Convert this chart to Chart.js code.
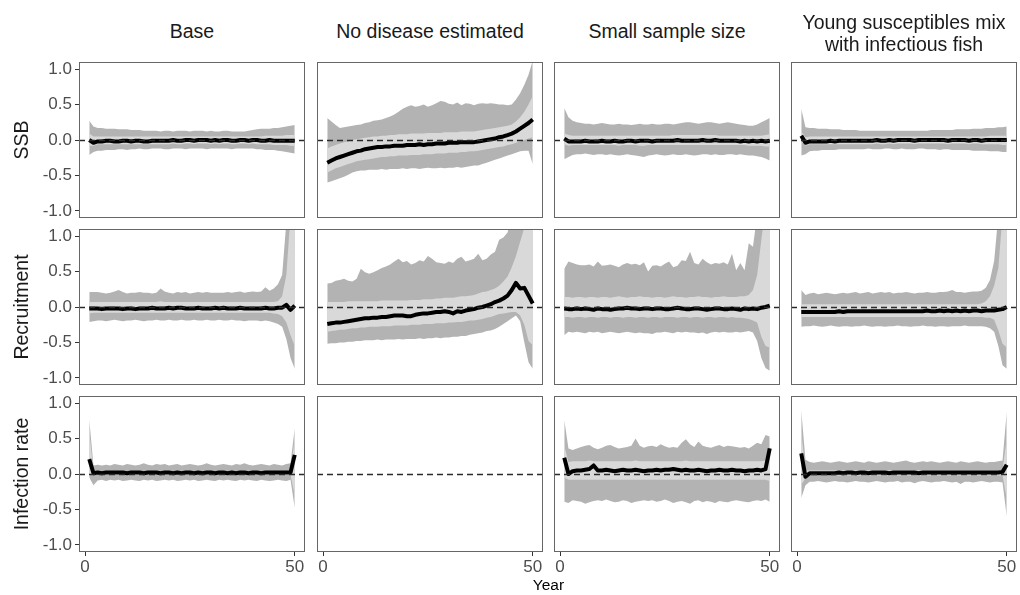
<!DOCTYPE html>
<html><head><meta charset="utf-8">
<script src="https://cdn.jsdelivr.net/npm/chart.js@4.4.1/dist/chart.umd.min.js"></script>
<style>
html,body{margin:0;padding:0;background:#fff;}
#wrap{position:relative;width:1020px;height:595px;overflow:hidden;font-family:'Liberation Sans',Arial,sans-serif;}
canvas{position:absolute;}
.strip{position:absolute;text-align:center;font-size:19.5px;line-height:22px;color:#1a1a1a;white-space:nowrap;}
.rowlab{position:absolute;font-size:19.5px;line-height:22px;color:#1a1a1a;white-space:nowrap;transform:translate(-50%,-50%) rotate(-90deg);}
.xtitle{position:absolute;font-size:15.5px;line-height:18px;color:#000;transform:translate(-50%,-50%);white-space:nowrap;}
</style></head>
<body><div id="wrap"></div>
<script>
// ---------- data ----------
const years = [1,2,3,4,5,6,7,8,9,10,11,12,13,14,15,16,17,18,19,20,21,22,23,24,25,
  26,27,28,29,30,31,32,33,34,35,36,37,38,39,40,41,42,43,44,45,46,47,48,49,50];
const xTicks = [0, 50];
const yTicks = [-1.0, -0.5, 0.0, 0.5, 1.0];
const yTickLabels = ['-1.0', '-0.5', '0.0', '0.5', '1.0'];
const scenarios = ['Base', 'No disease estimated', 'Small sample size', 'Young susceptibles mix\nwith infectious fish'];
const quantities = ['SSB', 'Recruitment', 'Infection rate'];

// SSB - Base
const ssbBaseMed = [0.00,-0.04,-0.02,-0.02,-0.01,-0.01,-0.02,-0.02,-0.01,-0.01,
 -0.02,-0.01,-0.01,-0.02,-0.02,-0.01,-0.01,-0.01,-0.01,-0.01,
 0.00,-0.01,-0.01,0.00,0.00,-0.01,0.00,0.00,0.00,-0.01,
 0.00,-0.01,0.00,0.00,-0.01,-0.01,0.00,0.00,-0.01,0.00,
 0.00,-0.01,-0.01,0.00,-0.01,-0.01,-0.01,-0.01,-0.01,-0.01];
const ssbBaseHi90 = [0.27,0.19,0.17,0.17,0.16,0.16,0.16,0.15,0.15,0.15,
 0.14,0.14,0.14,0.13,0.13,0.13,0.13,0.12,0.13,0.13,
 0.12,0.13,0.13,0.13,0.12,0.13,0.13,0.13,0.12,0.13,
 0.12,0.12,0.13,0.13,0.12,0.12,0.12,0.12,0.13,0.14,
 0.15,0.16,0.16,0.16,0.17,0.17,0.18,0.19,0.20,0.21];
const ssbBaseLo90 = [-0.21,-0.17,-0.15,-0.15,-0.14,-0.14,-0.14,-0.13,-0.13,-0.14,
 -0.13,-0.13,-0.12,-0.13,-0.13,-0.12,-0.12,-0.12,-0.13,-0.13,
 -0.12,-0.12,-0.12,-0.13,-0.12,-0.12,-0.12,-0.12,-0.13,-0.12,
 -0.12,-0.12,-0.12,-0.12,-0.13,-0.12,-0.12,-0.12,-0.12,-0.12,
 -0.13,-0.13,-0.14,-0.14,-0.14,-0.15,-0.16,-0.17,-0.18,-0.19];
const ssbBaseHi50 = [0.09,0.05,0.05,0.05,0.05,0.05,0.05,0.05,0.05,0.05,
 0.05,0.05,0.05,0.05,0.05,0.05,0.05,0.05,0.05,0.05,
 0.05,0.05,0.05,0.05,0.05,0.05,0.05,0.05,0.05,0.05,
 0.05,0.05,0.05,0.05,0.05,0.05,0.05,0.05,0.05,0.05,
 0.05,0.05,0.06,0.06,0.06,0.06,0.06,0.07,0.07,0.07];
const ssbBaseLo50 = [-0.08,-0.08,-0.06,-0.06,-0.06,-0.06,-0.06,-0.06,-0.06,-0.06,
 -0.06,-0.06,-0.06,-0.06,-0.06,-0.06,-0.06,-0.06,-0.06,-0.06,
 -0.05,-0.06,-0.06,-0.05,-0.05,-0.06,-0.05,-0.05,-0.05,-0.06,
 -0.05,-0.06,-0.05,-0.05,-0.06,-0.06,-0.05,-0.05,-0.06,-0.05,
 -0.06,-0.06,-0.06,-0.06,-0.07,-0.07,-0.07,-0.07,-0.08,-0.08];

// SSB - No disease estimated
const ssbNoMed = [-0.32,-0.29,-0.26,-0.24,-0.22,-0.20,-0.18,-0.16,-0.15,-0.13,
 -0.12,-0.11,-0.10,-0.10,-0.09,-0.09,-0.08,-0.08,-0.08,-0.07,
 -0.07,-0.07,-0.06,-0.07,-0.06,-0.06,-0.05,-0.05,-0.05,-0.04,
 -0.04,-0.04,-0.03,-0.03,-0.03,-0.03,-0.02,-0.01,0.00,0.01,
 0.02,0.04,0.05,0.07,0.09,0.12,0.16,0.20,0.24,0.29];
const ssbNoHi90 = [0.31,0.26,0.21,0.17,0.18,0.19,0.20,0.21,0.22,0.24,
 0.25,0.27,0.28,0.29,0.31,0.33,0.36,0.40,0.44,0.47,
 0.49,0.47,0.48,0.50,0.47,0.49,0.52,0.55,0.54,0.51,
 0.50,0.53,0.49,0.52,0.51,0.49,0.51,0.52,0.51,0.52,
 0.51,0.50,0.50,0.49,0.50,0.57,0.66,0.78,0.92,1.12];
const ssbNoLo90 = [-0.60,-0.58,-0.56,-0.54,-0.52,-0.49,-0.46,-0.44,-0.43,-0.43,
 -0.42,-0.42,-0.42,-0.41,-0.42,-0.41,-0.41,-0.41,-0.40,-0.41,
 -0.40,-0.40,-0.41,-0.40,-0.39,-0.40,-0.40,-0.39,-0.40,-0.39,
 -0.39,-0.38,-0.39,-0.38,-0.37,-0.36,-0.36,-0.34,-0.32,-0.30,
 -0.28,-0.26,-0.24,-0.22,-0.20,-0.18,-0.16,-0.15,-0.15,-0.34];
const ssbNoHi50 = [-0.12,-0.09,-0.07,-0.05,-0.03,-0.02,0.00,0.01,0.02,0.03,
 0.04,0.05,0.05,0.06,0.06,0.07,0.07,0.08,0.08,0.08,
 0.09,0.09,0.09,0.09,0.10,0.10,0.10,0.10,0.11,0.11,
 0.11,0.11,0.12,0.12,0.12,0.12,0.13,0.14,0.15,0.16,
 0.17,0.18,0.19,0.20,0.22,0.26,0.32,0.40,0.50,0.62];
const ssbNoLo50 = [-0.46,-0.43,-0.40,-0.38,-0.36,-0.34,-0.32,-0.30,-0.29,-0.28,
 -0.27,-0.26,-0.25,-0.24,-0.24,-0.23,-0.23,-0.22,-0.22,-0.22,
 -0.21,-0.21,-0.21,-0.20,-0.20,-0.20,-0.19,-0.19,-0.19,-0.18,
 -0.18,-0.18,-0.17,-0.17,-0.16,-0.16,-0.15,-0.14,-0.13,-0.12,
 -0.11,-0.10,-0.09,-0.07,-0.06,-0.04,-0.02,0.00,0.02,0.04];

// SSB - Small sample size
const ssbSmallMed = [0.02,-0.02,-0.02,-0.02,-0.02,-0.01,-0.02,-0.02,-0.02,-0.01,
 -0.02,-0.02,-0.01,-0.02,-0.02,-0.01,-0.01,-0.02,-0.01,-0.01,
 -0.01,-0.02,-0.01,-0.01,-0.01,-0.01,-0.01,0.00,-0.01,-0.01,
 -0.01,-0.01,-0.01,0.00,-0.01,-0.01,0.00,-0.01,-0.01,-0.01,
 -0.01,-0.01,-0.02,-0.01,-0.02,-0.01,-0.02,-0.01,-0.02,-0.01];
const ssbSmallHi90 = [0.45,0.32,0.27,0.25,0.24,0.23,0.23,0.22,0.23,0.24,
 0.23,0.22,0.22,0.23,0.22,0.22,0.21,0.22,0.23,0.22,
 0.22,0.23,0.22,0.22,0.23,0.23,0.22,0.23,0.24,0.25,
 0.25,0.24,0.23,0.24,0.25,0.25,0.24,0.23,0.24,0.25,
 0.24,0.23,0.22,0.21,0.20,0.20,0.22,0.25,0.28,0.31];
const ssbSmallLo90 = [-0.27,-0.24,-0.21,-0.20,-0.20,-0.19,-0.20,-0.21,-0.20,-0.20,
 -0.21,-0.20,-0.21,-0.22,-0.21,-0.20,-0.21,-0.22,-0.23,-0.24,
 -0.22,-0.21,-0.20,-0.21,-0.22,-0.21,-0.20,-0.21,-0.21,-0.20,
 -0.21,-0.22,-0.21,-0.20,-0.20,-0.21,-0.20,-0.21,-0.21,-0.20,
 -0.20,-0.21,-0.20,-0.21,-0.22,-0.22,-0.23,-0.24,-0.26,-0.29];
const ssbSmallHi50 = [0.09,0.07,0.06,0.06,0.06,0.06,0.06,0.06,0.06,0.06,
 0.06,0.06,0.06,0.06,0.06,0.06,0.06,0.06,0.06,0.06,
 0.06,0.06,0.06,0.06,0.06,0.06,0.07,0.07,0.07,0.07,
 0.07,0.07,0.07,0.07,0.07,0.07,0.07,0.06,0.06,0.06,
 0.06,0.06,0.06,0.06,0.06,0.06,0.06,0.06,0.07,0.08];
const ssbSmallLo50 = [-0.06,-0.08,-0.07,-0.07,-0.07,-0.07,-0.07,-0.07,-0.07,-0.07,
 -0.07,-0.07,-0.07,-0.08,-0.07,-0.07,-0.07,-0.07,-0.08,-0.08,
 -0.07,-0.07,-0.07,-0.07,-0.07,-0.07,-0.07,-0.07,-0.07,-0.07,
 -0.07,-0.07,-0.07,-0.07,-0.07,-0.07,-0.07,-0.07,-0.07,-0.07,
 -0.07,-0.07,-0.07,-0.07,-0.08,-0.08,-0.08,-0.08,-0.09,-0.09];

// SSB - Young susceptibles mix with infectious fish
const ssbYoungMed = [0.06,-0.04,-0.02,-0.02,-0.02,-0.02,-0.02,-0.01,-0.02,-0.01,
 -0.01,-0.01,-0.01,-0.01,-0.01,-0.01,-0.01,-0.01,0.00,-0.01,
 -0.01,0.00,-0.01,0.00,0.00,0.00,0.00,-0.01,0.00,0.00,
 0.00,0.00,0.00,0.00,0.00,-0.01,0.00,0.00,0.00,0.00,
 -0.01,0.00,0.00,-0.01,0.00,0.00,0.00,0.00,0.00,0.00];
const ssbYoungHi90 = [0.44,0.18,0.17,0.17,0.16,0.16,0.16,0.15,0.15,0.15,
 0.14,0.14,0.14,0.14,0.13,0.13,0.13,0.13,0.13,0.13,
 0.13,0.13,0.13,0.13,0.13,0.13,0.13,0.13,0.13,0.13,
 0.13,0.14,0.14,0.14,0.14,0.14,0.14,0.15,0.15,0.15,
 0.15,0.16,0.16,0.16,0.17,0.17,0.17,0.18,0.18,0.19];
const ssbYoungLo90 = [-0.22,-0.20,-0.16,-0.15,-0.15,-0.14,-0.14,-0.14,-0.14,-0.13,
 -0.13,-0.13,-0.13,-0.13,-0.13,-0.13,-0.12,-0.13,-0.13,-0.13,
 -0.12,-0.12,-0.13,-0.13,-0.12,-0.13,-0.13,-0.13,-0.12,-0.12,
 -0.13,-0.13,-0.13,-0.14,-0.13,-0.13,-0.14,-0.14,-0.14,-0.14,
 -0.14,-0.15,-0.15,-0.15,-0.15,-0.16,-0.16,-0.16,-0.17,-0.17];
const ssbYoungHi50 = [0.12,0.04,0.05,0.05,0.05,0.05,0.05,0.05,0.05,0.05,
 0.05,0.05,0.05,0.05,0.05,0.05,0.05,0.05,0.05,0.05,
 0.05,0.05,0.05,0.05,0.05,0.05,0.05,0.05,0.05,0.05,
 0.05,0.05,0.05,0.05,0.05,0.05,0.05,0.05,0.05,0.05,
 0.05,0.05,0.05,0.05,0.05,0.06,0.06,0.06,0.06,0.06];
const ssbYoungLo50 = [-0.02,-0.08,-0.06,-0.06,-0.06,-0.06,-0.06,-0.06,-0.06,-0.06,
 -0.06,-0.06,-0.06,-0.06,-0.06,-0.06,-0.06,-0.06,-0.05,-0.06,
 -0.06,-0.05,-0.06,-0.05,-0.05,-0.05,-0.05,-0.06,-0.05,-0.05,
 -0.05,-0.05,-0.05,-0.05,-0.05,-0.06,-0.05,-0.05,-0.05,-0.05,
 -0.06,-0.05,-0.05,-0.06,-0.06,-0.06,-0.06,-0.06,-0.07,-0.07];

// Recruitment - Base
const recBaseMed = [-0.02,-0.02,-0.02,-0.03,-0.02,-0.02,-0.02,-0.02,-0.03,-0.02,
 -0.02,-0.03,-0.02,-0.02,-0.02,-0.01,-0.02,-0.02,-0.02,-0.01,
 -0.02,-0.01,-0.01,-0.02,-0.02,-0.02,-0.01,-0.02,-0.02,-0.02,
 -0.01,-0.02,-0.01,-0.02,-0.02,-0.02,-0.01,-0.02,-0.02,-0.02,
 -0.02,-0.02,-0.01,-0.02,-0.02,-0.01,-0.01,0.03,-0.04,0.02];
const recBaseHi90 = [0.21,0.21,0.21,0.20,0.19,0.20,0.22,0.24,0.21,0.19,
 0.20,0.20,0.21,0.20,0.20,0.19,0.20,0.26,0.22,0.20,
 0.19,0.21,0.20,0.21,0.19,0.20,0.21,0.20,0.21,0.20,
 0.20,0.20,0.20,0.21,0.20,0.21,0.22,0.20,0.21,0.22,
 0.21,0.22,0.28,0.23,0.26,0.32,0.45,1.20,2.00,2.50];
const recBaseLo90 = [-0.21,-0.20,-0.19,-0.19,-0.20,-0.19,-0.18,-0.19,-0.20,-0.19,
 -0.19,-0.18,-0.19,-0.20,-0.19,-0.19,-0.18,-0.19,-0.19,-0.18,
 -0.19,-0.19,-0.18,-0.19,-0.19,-0.18,-0.19,-0.19,-0.18,-0.19,
 -0.19,-0.18,-0.19,-0.19,-0.18,-0.19,-0.19,-0.20,-0.19,-0.19,
 -0.19,-0.20,-0.19,-0.20,-0.22,-0.24,-0.28,-0.45,-0.72,-0.87];
const recBaseHi50 = [0.07,0.07,0.07,0.07,0.07,0.07,0.07,0.07,0.07,0.07,
 0.07,0.07,0.07,0.07,0.07,0.07,0.07,0.08,0.07,0.07,
 0.07,0.07,0.07,0.07,0.07,0.07,0.07,0.07,0.07,0.07,
 0.07,0.07,0.07,0.07,0.07,0.07,0.07,0.07,0.07,0.07,
 0.07,0.07,0.07,0.07,0.07,0.08,0.15,0.45,1.30,1.80];
const recBaseLo50 = [-0.09,-0.08,-0.08,-0.08,-0.08,-0.08,-0.08,-0.08,-0.08,-0.08,
 -0.08,-0.08,-0.08,-0.08,-0.08,-0.08,-0.08,-0.08,-0.08,-0.08,
 -0.08,-0.08,-0.08,-0.08,-0.08,-0.08,-0.08,-0.08,-0.08,-0.08,
 -0.08,-0.08,-0.08,-0.08,-0.08,-0.08,-0.08,-0.08,-0.08,-0.08,
 -0.08,-0.08,-0.08,-0.08,-0.09,-0.10,-0.13,-0.22,-0.40,-0.55];

// Recruitment - No disease estimated
const recNoMed = [-0.24,-0.23,-0.22,-0.22,-0.21,-0.20,-0.19,-0.18,-0.17,-0.16,
 -0.16,-0.15,-0.15,-0.14,-0.14,-0.13,-0.12,-0.12,-0.12,-0.13,
 -0.13,-0.11,-0.10,-0.09,-0.09,-0.08,-0.07,-0.07,-0.06,-0.07,
 -0.09,-0.06,-0.07,-0.05,-0.04,-0.03,-0.01,0.00,0.02,0.04,
 0.07,0.09,0.12,0.16,0.24,0.34,0.26,0.27,0.16,0.05];
const recNoHi90 = [0.33,0.34,0.37,0.38,0.40,0.37,0.36,0.40,0.54,0.49,
 0.47,0.49,0.52,0.55,0.57,0.60,0.64,0.68,0.63,0.65,
 0.60,0.62,0.66,0.64,0.72,0.68,0.63,0.62,0.61,0.64,
 0.62,0.68,0.71,0.64,0.66,0.68,0.75,0.66,0.68,0.74,
 0.78,0.95,0.98,1.05,1.30,1.60,1.90,2.20,2.50,2.80];
const recNoLo90 = [-0.52,-0.51,-0.51,-0.50,-0.50,-0.49,-0.49,-0.48,-0.48,-0.47,
 -0.47,-0.47,-0.46,-0.47,-0.46,-0.46,-0.46,-0.45,-0.46,-0.45,
 -0.45,-0.45,-0.44,-0.45,-0.44,-0.44,-0.43,-0.44,-0.43,-0.43,
 -0.42,-0.42,-0.41,-0.41,-0.39,-0.38,-0.37,-0.36,-0.34,-0.33,
 -0.31,-0.28,-0.24,-0.20,-0.16,-0.12,-0.20,-0.50,-0.78,-0.87];
const recNoHi50 = [0.07,0.07,0.07,0.07,0.07,0.08,0.08,0.08,0.08,0.08,
 0.08,0.08,0.08,0.09,0.09,0.09,0.09,0.09,0.09,0.09,
 0.10,0.10,0.10,0.11,0.11,0.11,0.12,0.12,0.13,0.13,
 0.13,0.14,0.15,0.15,0.16,0.17,0.19,0.21,0.22,0.24,
 0.26,0.30,0.36,0.43,0.56,0.72,0.92,1.12,1.40,1.60];
const recNoLo50 = [-0.35,-0.34,-0.33,-0.32,-0.32,-0.31,-0.30,-0.30,-0.29,-0.29,
 -0.28,-0.28,-0.28,-0.27,-0.27,-0.27,-0.26,-0.26,-0.26,-0.26,
 -0.25,-0.25,-0.25,-0.24,-0.24,-0.24,-0.23,-0.23,-0.23,-0.22,
 -0.22,-0.21,-0.21,-0.20,-0.19,-0.19,-0.18,-0.17,-0.15,-0.14,
 -0.12,-0.10,-0.09,-0.08,-0.07,-0.07,-0.12,-0.25,-0.48,-0.54];

// Recruitment - Small sample size
const recSmallMed = [-0.02,-0.03,-0.03,-0.02,-0.03,-0.02,-0.03,-0.04,-0.02,-0.03,
 -0.03,-0.04,-0.03,-0.02,-0.02,-0.01,-0.02,-0.02,-0.03,-0.02,
 -0.02,-0.03,-0.02,-0.02,-0.03,-0.03,-0.02,-0.01,-0.02,-0.03,
 -0.03,-0.02,-0.02,-0.03,-0.04,-0.03,-0.02,-0.02,-0.03,-0.03,
 -0.02,-0.03,-0.04,-0.02,-0.03,-0.02,-0.03,-0.01,0.00,0.02];
const recSmallHi90 = [0.54,0.64,0.62,0.60,0.59,0.59,0.60,0.57,0.64,0.58,
 0.59,0.60,0.58,0.56,0.60,0.62,0.60,0.61,0.59,0.63,
 0.50,0.58,0.59,0.57,0.61,0.64,0.56,0.58,0.66,0.65,
 0.78,0.62,0.60,0.68,0.63,0.60,0.62,0.61,0.63,0.60,
 0.75,0.52,0.62,0.52,0.90,0.85,1.30,1.80,2.30,2.80];
const recSmallLo90 = [-0.40,-0.35,-0.36,-0.35,-0.36,-0.37,-0.35,-0.36,-0.35,-0.37,
 -0.36,-0.35,-0.36,-0.37,-0.36,-0.35,-0.36,-0.37,-0.36,-0.37,
 -0.37,-0.38,-0.36,-0.36,-0.35,-0.36,-0.37,-0.35,-0.36,-0.35,
 -0.36,-0.36,-0.37,-0.36,-0.38,-0.36,-0.35,-0.36,-0.35,-0.36,
 -0.36,-0.35,-0.36,-0.35,-0.34,-0.36,-0.48,-0.72,-0.86,-0.90];
const recSmallHi50 = [0.14,0.14,0.13,0.14,0.14,0.13,0.14,0.14,0.13,0.14,
 0.14,0.13,0.14,0.15,0.14,0.13,0.14,0.14,0.15,0.14,
 0.14,0.13,0.14,0.14,0.13,0.14,0.15,0.14,0.14,0.13,
 0.14,0.14,0.15,0.14,0.14,0.13,0.14,0.14,0.15,0.14,
 0.14,0.14,0.15,0.15,0.17,0.24,0.45,0.95,1.40,1.80];
const recSmallLo50 = [-0.14,-0.14,-0.15,-0.14,-0.14,-0.15,-0.14,-0.14,-0.15,-0.14,
 -0.14,-0.15,-0.14,-0.14,-0.15,-0.14,-0.14,-0.15,-0.14,-0.14,
 -0.15,-0.14,-0.14,-0.15,-0.14,-0.14,-0.14,-0.15,-0.14,-0.14,
 -0.15,-0.14,-0.14,-0.15,-0.14,-0.14,-0.15,-0.14,-0.14,-0.15,
 -0.14,-0.15,-0.15,-0.16,-0.17,-0.19,-0.22,-0.42,-0.55,-0.57];

// Recruitment - Young susceptibles mix with infectious fish
const recYoungMed = [-0.07,-0.07,-0.07,-0.07,-0.07,-0.07,-0.07,-0.07,-0.07,-0.06,
 -0.07,-0.06,-0.06,-0.06,-0.06,-0.06,-0.06,-0.06,-0.06,-0.06,
 -0.06,-0.06,-0.06,-0.06,-0.06,-0.06,-0.06,-0.06,-0.06,-0.06,
 -0.05,-0.06,-0.06,-0.05,-0.06,-0.05,-0.06,-0.05,-0.06,-0.05,
 -0.06,-0.05,-0.05,-0.06,-0.05,-0.05,-0.05,-0.04,-0.03,0.00];
const recYoungHi90 = [0.24,0.17,0.19,0.20,0.18,0.19,0.20,0.19,0.18,0.19,
 0.20,0.19,0.20,0.21,0.19,0.20,0.21,0.19,0.20,0.21,
 0.20,0.21,0.19,0.20,0.20,0.21,0.20,0.19,0.20,0.20,
 0.21,0.20,0.20,0.21,0.21,0.22,0.24,0.21,0.21,0.20,
 0.21,0.22,0.22,0.23,0.27,0.38,0.65,1.30,2.00,2.50];
const recYoungLo90 = [-0.28,-0.27,-0.27,-0.26,-0.27,-0.28,-0.27,-0.26,-0.27,-0.28,
 -0.27,-0.27,-0.28,-0.27,-0.27,-0.26,-0.27,-0.28,-0.27,-0.27,
 -0.28,-0.27,-0.27,-0.26,-0.27,-0.27,-0.28,-0.27,-0.27,-0.26,
 -0.27,-0.27,-0.28,-0.27,-0.27,-0.28,-0.27,-0.27,-0.27,-0.26,
 -0.27,-0.27,-0.27,-0.27,-0.28,-0.30,-0.35,-0.55,-0.82,-0.87];
const recYoungHi50 = [0.04,0.04,0.04,0.04,0.04,0.04,0.04,0.04,0.04,0.04,
 0.04,0.04,0.04,0.04,0.04,0.04,0.04,0.04,0.04,0.04,
 0.04,0.04,0.04,0.04,0.04,0.04,0.04,0.04,0.04,0.04,
 0.04,0.04,0.04,0.04,0.04,0.04,0.04,0.04,0.04,0.04,
 0.04,0.04,0.04,0.05,0.08,0.15,0.30,0.55,1.30,1.60];
const recYoungLo50 = [-0.14,-0.14,-0.14,-0.14,-0.14,-0.14,-0.14,-0.14,-0.14,-0.14,
 -0.14,-0.14,-0.14,-0.14,-0.14,-0.14,-0.14,-0.14,-0.14,-0.14,
 -0.14,-0.14,-0.14,-0.14,-0.14,-0.14,-0.14,-0.14,-0.14,-0.14,
 -0.14,-0.14,-0.14,-0.14,-0.14,-0.14,-0.14,-0.14,-0.14,-0.14,
 -0.14,-0.14,-0.14,-0.14,-0.15,-0.15,-0.18,-0.33,-0.52,-0.57];

// Infection rate - Base
const infBaseMed = [0.21,0.01,0.02,0.01,0.02,0.02,0.02,0.02,0.02,0.01,
 0.02,0.02,0.02,0.01,0.02,0.02,0.02,0.01,0.02,0.02,
 0.01,0.02,0.01,0.02,0.02,0.01,0.02,0.01,0.02,0.02,
 0.01,0.02,0.02,0.01,0.02,0.01,0.02,0.02,0.01,0.02,
 0.02,0.01,0.02,0.02,0.02,0.02,0.02,0.02,0.02,0.27];
const infBaseHi90 = [0.77,0.12,0.13,0.12,0.13,0.12,0.14,0.13,0.12,0.14,
 0.13,0.12,0.13,0.15,0.13,0.12,0.14,0.13,0.14,0.12,
 0.13,0.14,0.12,0.13,0.14,0.13,0.12,0.13,0.15,0.13,
 0.12,0.13,0.14,0.13,0.12,0.14,0.13,0.15,0.13,0.12,
 0.13,0.14,0.13,0.12,0.14,0.13,0.12,0.14,0.15,0.65];
const infBaseLo90 = [-0.05,-0.16,-0.09,-0.08,-0.10,-0.08,-0.09,-0.08,-0.10,-0.09,
 -0.08,-0.09,-0.10,-0.08,-0.09,-0.08,-0.10,-0.09,-0.08,-0.09,
 -0.08,-0.10,-0.09,-0.08,-0.09,-0.08,-0.10,-0.09,-0.08,-0.09,
 -0.10,-0.08,-0.09,-0.08,-0.09,-0.10,-0.08,-0.09,-0.08,-0.09,
 -0.10,-0.08,-0.09,-0.10,-0.09,-0.08,-0.09,-0.10,-0.08,-0.48];
const infBaseHi50 = [0.60,0.04,0.04,0.04,0.04,0.04,0.04,0.04,0.04,0.04,
 0.04,0.04,0.04,0.04,0.04,0.04,0.04,0.04,0.04,0.04,
 0.04,0.04,0.04,0.04,0.04,0.04,0.04,0.04,0.04,0.04,
 0.04,0.04,0.04,0.04,0.04,0.04,0.04,0.04,0.04,0.04,
 0.04,0.04,0.04,0.04,0.04,0.04,0.04,0.04,0.04,0.50];
const infBaseLo50 = [0.00,-0.01,-0.01,-0.01,-0.01,-0.01,-0.01,-0.01,-0.01,-0.01,
 -0.01,-0.01,-0.01,-0.01,-0.01,-0.01,-0.01,-0.01,-0.01,-0.01,
 -0.01,-0.01,-0.01,-0.01,-0.01,-0.01,-0.01,-0.01,-0.01,-0.01,
 -0.01,-0.01,-0.01,-0.01,-0.01,-0.01,-0.01,-0.01,-0.01,-0.01,
 -0.01,-0.01,-0.01,-0.01,-0.01,-0.01,-0.01,-0.01,-0.01,-0.30];

// Infection rate - Small sample size
const infSmallMed = [0.23,0.00,0.04,0.05,0.05,0.06,0.07,0.12,0.05,0.05,
 0.06,0.05,0.04,0.05,0.06,0.05,0.05,0.06,0.05,0.04,
 0.05,0.05,0.06,0.05,0.06,0.06,0.07,0.06,0.05,0.06,
 0.05,0.05,0.06,0.05,0.04,0.05,0.05,0.06,0.05,0.05,
 0.06,0.05,0.05,0.04,0.05,0.05,0.06,0.05,0.07,0.36];
const infSmallHi90 = [0.76,0.36,0.34,0.36,0.38,0.40,0.41,0.37,0.35,0.37,
 0.40,0.41,0.38,0.36,0.37,0.38,0.40,0.50,0.40,0.37,
 0.39,0.40,0.38,0.42,0.39,0.37,0.38,0.37,0.44,0.49,
 0.42,0.38,0.46,0.40,0.38,0.37,0.39,0.41,0.38,0.40,
 0.39,0.38,0.37,0.38,0.36,0.40,0.44,0.42,0.55,0.53];
const infSmallLo90 = [-0.39,-0.41,-0.37,-0.38,-0.39,-0.42,-0.40,-0.38,-0.37,-0.38,
 -0.36,-0.38,-0.40,-0.39,-0.37,-0.38,-0.41,-0.39,-0.38,-0.37,
 -0.38,-0.37,-0.39,-0.38,-0.36,-0.38,-0.41,-0.39,-0.38,-0.40,
 -0.42,-0.38,-0.37,-0.40,-0.38,-0.39,-0.41,-0.38,-0.39,-0.40,
 -0.38,-0.37,-0.38,-0.39,-0.40,-0.38,-0.37,-0.38,-0.36,-0.39];
const infSmallHi50 = [0.40,0.17,0.18,0.18,0.18,0.18,0.19,0.18,0.18,0.18,
 0.18,0.18,0.18,0.18,0.18,0.18,0.18,0.19,0.18,0.18,
 0.18,0.18,0.18,0.18,0.18,0.18,0.18,0.18,0.18,0.19,
 0.18,0.18,0.18,0.18,0.18,0.18,0.18,0.18,0.18,0.18,
 0.18,0.18,0.18,0.18,0.18,0.18,0.18,0.18,0.19,0.22];
const infSmallLo50 = [-0.05,-0.08,-0.08,-0.08,-0.08,-0.08,-0.08,-0.08,-0.08,-0.08,
 -0.08,-0.08,-0.08,-0.08,-0.08,-0.08,-0.08,-0.08,-0.08,-0.08,
 -0.08,-0.08,-0.08,-0.08,-0.08,-0.08,-0.08,-0.08,-0.08,-0.08,
 -0.08,-0.08,-0.08,-0.08,-0.08,-0.08,-0.08,-0.08,-0.08,-0.08,
 -0.08,-0.08,-0.08,-0.08,-0.08,-0.08,-0.08,-0.08,-0.08,-0.10];

// Infection rate - Young susceptibles mix with infectious fish
const infYoungMed = [0.29,-0.04,0.01,0.01,0.01,0.01,0.01,0.01,0.01,0.02,
 0.01,0.02,0.02,0.01,0.02,0.02,0.01,0.02,0.02,0.02,
 0.02,0.01,0.02,0.02,0.02,0.02,0.02,0.02,0.01,0.02,
 0.02,0.02,0.02,0.02,0.02,0.02,0.02,0.02,0.02,0.02,
 0.02,0.02,0.02,0.02,0.02,0.02,0.02,0.02,0.03,0.13];
const infYoungHi90 = [0.90,0.20,0.17,0.16,0.17,0.18,0.17,0.16,0.17,0.18,
 0.17,0.16,0.17,0.18,0.17,0.16,0.18,0.17,0.16,0.17,
 0.18,0.17,0.16,0.17,0.18,0.19,0.17,0.16,0.17,0.18,
 0.17,0.18,0.17,0.16,0.17,0.18,0.17,0.16,0.18,0.17,
 0.16,0.17,0.18,0.17,0.16,0.17,0.17,0.18,0.19,0.88];
const infYoungLo90 = [-0.34,-0.16,-0.11,-0.11,-0.10,-0.11,-0.12,-0.11,-0.10,-0.11,
 -0.11,-0.12,-0.11,-0.10,-0.11,-0.11,-0.12,-0.11,-0.10,-0.11,
 -0.12,-0.11,-0.11,-0.10,-0.12,-0.11,-0.11,-0.13,-0.11,-0.10,
 -0.11,-0.12,-0.11,-0.11,-0.10,-0.11,-0.12,-0.11,-0.14,-0.11,
 -0.11,-0.12,-0.11,-0.10,-0.11,-0.12,-0.11,-0.11,-0.12,-0.60];
const infYoungHi50 = [0.60,0.05,0.05,0.05,0.05,0.05,0.05,0.05,0.05,0.05,
 0.05,0.05,0.05,0.05,0.05,0.05,0.05,0.05,0.05,0.05,
 0.05,0.05,0.05,0.05,0.05,0.05,0.05,0.05,0.05,0.05,
 0.05,0.05,0.05,0.05,0.05,0.05,0.05,0.05,0.05,0.05,
 0.05,0.05,0.05,0.05,0.05,0.05,0.05,0.05,0.06,0.50];
const infYoungLo50 = [-0.15,-0.06,-0.02,-0.02,-0.02,-0.02,-0.02,-0.02,-0.02,-0.02,
 -0.02,-0.02,-0.02,-0.02,-0.02,-0.02,-0.02,-0.02,-0.02,-0.02,
 -0.02,-0.02,-0.02,-0.02,-0.02,-0.02,-0.02,-0.02,-0.02,-0.02,
 -0.02,-0.02,-0.02,-0.02,-0.02,-0.02,-0.02,-0.02,-0.02,-0.02,
 -0.02,-0.02,-0.02,-0.02,-0.02,-0.02,-0.02,-0.02,-0.02,-0.35];

// ---------- layout / style ----------
const FONT = "'Liberation Sans', Arial, sans-serif";
Chart.defaults.font.family = FONT;
const OUTER = '#b3b3b3', INNER = '#d9d9d9';
const COL_LEFT = [79, 317, 554, 791], ROW_TOP = [62, 229, 396];
const PW = 226, PH = 156, M = 18, AXW = 52, AXH = 32;

const panels = [
  {row:0,col:0,med:ssbBaseMed,hi90:ssbBaseHi90,lo90:ssbBaseLo90,hi50:ssbBaseHi50,lo50:ssbBaseLo50},
  {row:0,col:1,med:ssbNoMed,hi90:ssbNoHi90,lo90:ssbNoLo90,hi50:ssbNoHi50,lo50:ssbNoLo50},
  {row:0,col:2,med:ssbSmallMed,hi90:ssbSmallHi90,lo90:ssbSmallLo90,hi50:ssbSmallHi50,lo50:ssbSmallLo50},
  {row:0,col:3,med:ssbYoungMed,hi90:ssbYoungHi90,lo90:ssbYoungLo90,hi50:ssbYoungHi50,lo50:ssbYoungLo50},
  {row:1,col:0,med:recBaseMed,hi90:recBaseHi90,lo90:recBaseLo90,hi50:recBaseHi50,lo50:recBaseLo50},
  {row:1,col:1,med:recNoMed,hi90:recNoHi90,lo90:recNoLo90,hi50:recNoHi50,lo50:recNoLo50},
  {row:1,col:2,med:recSmallMed,hi90:recSmallHi90,lo90:recSmallLo90,hi50:recSmallHi50,lo50:recSmallLo50},
  {row:1,col:3,med:recYoungMed,hi90:recYoungHi90,lo90:recYoungLo90,hi50:recYoungHi50,lo50:recYoungLo50},
  {row:2,col:0,med:infBaseMed,hi90:infBaseHi90,lo90:infBaseLo90,hi50:infBaseHi50,lo50:infBaseLo50},
  {row:2,col:1,med:null},
  {row:2,col:2,med:infSmallMed,hi90:infSmallHi90,lo90:infSmallLo90,hi50:infSmallHi50,lo50:infSmallLo50},
  {row:2,col:3,med:infYoungMed,hi90:infYoungHi90,lo90:infYoungLo90,hi50:infYoungHi50,lo50:infYoungLo50}
];

const wrap = document.getElementById('wrap');

const framePlugin = {
  id: 'frame',
  afterDatasetsDraw(chart) {
    const ctx = chart.ctx, a = chart.chartArea, y = chart.scales.y;
    const y0 = Math.round(y.getPixelForValue(0)) + 0.5;
    ctx.save();
    ctx.beginPath(); ctx.rect(a.left, a.top, a.right - a.left, a.bottom - a.top); ctx.clip();
    ctx.setLineDash([6, 4]);
    ctx.strokeStyle = '#2a2a2a'; ctx.lineWidth = 1.4;
    ctx.beginPath(); ctx.moveTo(a.left, y0); ctx.lineTo(a.right, y0); ctx.stroke();
    ctx.restore();
    ctx.save();
    ctx.strokeStyle = '#666'; ctx.lineWidth = 1;
    ctx.strokeRect(a.left + 0.5, a.top + 0.5, a.right - a.left - 1, a.bottom - a.top - 1);
    ctx.restore();
  }
};

function pts(arr) { return years.map((x, i) => ({x: x, y: arr[i]})); }

function makePanel(p) {
  const yAx = p.col === 0, xAx = p.row === 2;
  const left = COL_LEFT[p.col] - M - (yAx ? AXW : 0);
  const top = ROW_TOP[p.row] - M;
  const w = PW + 2 * M + (yAx ? AXW : 0);
  const h = PH + 2 * M + (xAx ? AXH : 0);
  const cv = document.createElement('canvas');
  cv.width = w; cv.height = h;
  cv.style.left = left + 'px'; cv.style.top = top + 'px';
  cv.style.width = w + 'px'; cv.style.height = h + 'px';
  wrap.appendChild(cv);
  const none = 'rgba(0,0,0,0)';
  const datasets = [];
  if (p.med) {
    datasets.push({data: pts(p.hi90), fill: '+1', backgroundColor: OUTER, borderColor: none, borderWidth: 0, pointRadius: 0, order: 3});
    datasets.push({data: pts(p.lo90), fill: false, borderColor: none, borderWidth: 0, pointRadius: 0, order: 3});
    datasets.push({data: pts(p.hi50), fill: '+1', backgroundColor: INNER, borderColor: none, borderWidth: 0, pointRadius: 0, order: 2});
    datasets.push({data: pts(p.lo50), fill: false, borderColor: none, borderWidth: 0, pointRadius: 0, order: 2});
    datasets.push({data: pts(p.med), fill: false, borderColor: '#000', borderWidth: 4, pointRadius: 0, order: 1,
                   borderJoinStyle: 'round', borderCapStyle: 'butt'});
  }
  const tickFont = {family: FONT, size: 17};
  new Chart(cv, {
    type: 'line',
    data: {datasets: datasets},
    options: {
      responsive: false, animation: false, devicePixelRatio: 1,
      layout: {padding: M},
      elements: {line: {tension: 0}},
      plugins: {legend: {display: false}, tooltip: {enabled: false}},
      scales: {
        x: {
          type: 'linear', min: -1.45, max: 52.45, display: xAx,
          afterBuildTicks: s => { s.ticks = xTicks.map(v => ({value: v})); },
          afterFit: s => { if (xAx) s.height = AXH; },
          ticks: {autoSkip: false, maxRotation: 0, padding: 1, color: '#4d4d4d', font: tickFont,
                  callback: v => String(v)},
          grid: {drawOnChartArea: false, drawTicks: true, tickLength: 4, color: '#333', tickColor: '#333', lineWidth: 1},
          border: {display: false}
        },
        y: {
          type: 'linear', min: -1.1, max: 1.1, display: yAx,
          afterBuildTicks: s => { s.ticks = yTicks.map(v => ({value: v})); },
          afterFit: s => { if (yAx) s.width = AXW; },
          ticks: {autoSkip: false, padding: 3, color: '#4d4d4d', font: tickFont,
                  callback: (v, i) => yTickLabels[i]},
          grid: {drawOnChartArea: false, drawTicks: true, tickLength: 4, color: '#333', tickColor: '#333', lineWidth: 1},
          border: {display: false}
        }
      }
    },
    plugins: [framePlugin]
  });
}

panels.forEach(makePanel);

// strip titles
scenarios.forEach((t, c) => {
  const d = document.createElement('div');
  d.className = 'strip';
  const lines = t.split('\n');
  d.innerHTML = lines.map(s => s.replace(/&/g,'&amp;')).join('<br>');
  d.style.left = COL_LEFT[c] + 'px';
  d.style.width = PW + 'px';
  d.style.top = (lines.length === 1 ? 20 : 10.5) + 'px';
  wrap.appendChild(d);
});
// row labels
quantities.forEach((t, r) => {
  const d = document.createElement('div');
  d.className = 'rowlab';
  d.textContent = t;
  d.style.left = '21px';
  d.style.top = (ROW_TOP[r] + PH / 2) + 'px';
  wrap.appendChild(d);
});
// x-axis title
const xt = document.createElement('div');
xt.className = 'xtitle';
xt.textContent = 'Year';
xt.style.left = '548.5px';
xt.style.top = '585px';
wrap.appendChild(xt);
</script></body></html>
